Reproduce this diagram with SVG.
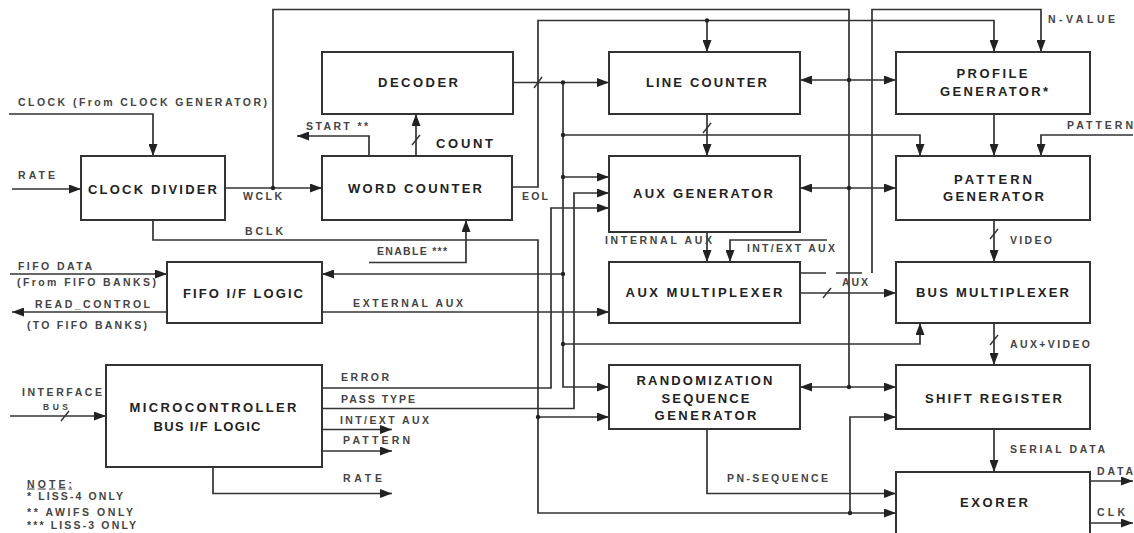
<svg xmlns="http://www.w3.org/2000/svg" width="1134" height="533" viewBox="0 0 1134 533">
<style>
.box{fill:#fff;stroke:#333;stroke-width:2}
.t{font-family:"Liberation Sans",Arial,sans-serif;font-weight:bold;font-size:13px;fill:#222;text-anchor:middle}
.s{font-family:"Liberation Sans",Arial,sans-serif;font-weight:bold;font-size:10.5px;fill:#444}
.w{fill:none;stroke:#333;stroke-width:1.7}
.a{marker-end:url(#ah)}
.dot{fill:#222}
.sl{stroke:#333;stroke-width:1.4}
</style>
<defs>
<marker id="ah" markerUnits="userSpaceOnUse" markerWidth="12" markerHeight="9" refX="12" refY="4.5" orient="auto">
<path d="M0,0 L12,4.5 L0,9 z" fill="#222"/>
</marker>
</defs>
<rect width="1134" height="533" fill="#fff"/>

<g id="connectors">
<path class="w a" d="M9,114 H153 V156"/>
<path class="w a" d="M12,189 H81"/>
<path class="w a" d="M225,188 H322"/>
<path class="w" d="M273,188 V9.5 H849 V387"/>
<path class="w a" d="M849,80 H800"/>
<path class="w a" d="M849,80 H896"/>
<path class="w a" d="M849,188 H800"/>
<path class="w a" d="M849,188 H896"/>
<path class="w a" d="M849,387 H800"/>
<path class="w a" d="M849,387 H896"/>
<path class="w a" d="M153,220 V240 H538 V513 H896"/>
<path class="w a" d="M538,417 H609"/>
<path class="w a" d="M850,513 V417 H896"/>
<path class="w a" d="M512,187 H538 V20.5 H994 V52"/>
<path class="w a" d="M707,20.5 V52"/>
<path class="w a" d="M513,82.5 H609"/>
<path class="w a" d="M563,82.5 V387 H609"/>
<path class="w a" d="M563,135 H920 V156"/>
<path class="w a" d="M563,177 H609"/>
<path class="w a" d="M563,274 H322"/>
<path class="w a" d="M563,344 H920 V323"/>
<path class="w a" d="M707,114 V156"/>
<path class="w a" d="M322,388 H551 V208 H609"/>
<path class="w a" d="M322,408.5 H574 V193 H609"/>
<path class="w a" d="M322,429.5 H392"/>
<path class="w a" d="M322,451 H392"/>
<path class="w a" d="M213,467 V493.5 H392"/>
<path class="w a" d="M322,312 H609"/>
<path class="w a" d="M10,274 H167"/>
<path class="w a" d="M167,312 H12"/>
<path class="w a" d="M10,416 H106"/>
<path class="w a" d="M369,156 V136 H297"/>
<path class="w a" d="M416,156 V114"/>
<path class="w a" d="M369,262.5 H466 V220"/>
<path class="w a" d="M707,232 V262"/>
<path class="w a" d="M827,240 H730 V262"/>
<path class="w a" d="M800,293 H896"/>
<path class="w" d="M800,273 H826 M836,273 H862"/>
<path class="w a" d="M872,273 V9.5 H1041 V52"/>
<path class="w a" d="M994,114 V156"/>
<path class="w a" d="M1133,135 H1041 V156"/>
<path class="w a" d="M994,220 V262"/>
<path class="w a" d="M994,323 V365"/>
<path class="w a" d="M994,429 V472"/>
<path class="w a" d="M707,429 V493.5 H896"/>
<path class="w a" d="M1089,481 H1133"/>
<path class="w a" d="M1089,523 H1133"/>
<line class="sl" x1="534" y1="88" x2="542" y2="77"/>
<line class="sl" x1="703" y1="133" x2="711" y2="123"/>
<line class="sl" x1="412" y1="145" x2="420" y2="135"/>
<line class="sl" x1="61" y1="421" x2="69" y2="411"/>
<line class="sl" x1="823" y1="298" x2="831" y2="288"/>
<line class="sl" x1="990" y1="239" x2="998" y2="229"/>
<line class="sl" x1="990" y1="345" x2="998" y2="335"/>
<circle class="dot" cx="273" cy="188" r="2.2"/>
<circle class="dot" cx="849" cy="80" r="2.2"/>
<circle class="dot" cx="849" cy="188" r="2.2"/>
<circle class="dot" cx="849" cy="387" r="2.2"/>
<circle class="dot" cx="538" cy="417" r="2.2"/>
<circle class="dot" cx="850" cy="513" r="2.2"/>
<circle class="dot" cx="707" cy="20.5" r="2.2"/>
<circle class="dot" cx="563" cy="82.5" r="2.2"/>
<circle class="dot" cx="563" cy="135" r="2.2"/>
<circle class="dot" cx="563" cy="177" r="2.2"/>
<circle class="dot" cx="563" cy="274" r="2.2"/>
<circle class="dot" cx="563" cy="344" r="2.2"/>
</g>

<g id="labels">
<text class="s" x="18" y="106" textLength="249" lengthAdjust="spacing">CLOCK (From CLOCK GENERATOR)</text>
<text class="s" x="18" y="178.5" textLength="37" lengthAdjust="spacing">RATE</text>
<text class="s" x="243" y="200" textLength="39" lengthAdjust="spacing">WCLK</text>
<text class="s" x="245" y="235" textLength="38" lengthAdjust="spacing">BCLK</text>
<text class="s" x="306" y="129.5" textLength="62" lengthAdjust="spacing">START **</text>
<text class="s" x="436" y="147.5" textLength="57" lengthAdjust="spacing" style="font-size:13px;fill:#222">COUNT</text>
<text class="s" x="522" y="200" textLength="26" lengthAdjust="spacing">EOL</text>
<text class="s" x="377" y="255" textLength="70" lengthAdjust="spacing">ENABLE ***</text>
<text class="s" x="18" y="269.5" textLength="74" lengthAdjust="spacing">FIFO DATA</text>
<text class="s" x="17" y="286" textLength="139" lengthAdjust="spacing">(From FIFO BANKS)</text>
<text class="s" x="35" y="307.5" textLength="115" lengthAdjust="spacing">READ_CONTROL</text>
<text class="s" x="27" y="328.5" textLength="120" lengthAdjust="spacing">(TO FIFO BANKS)</text>
<text class="s" x="353" y="306.5" textLength="110" lengthAdjust="spacing">EXTERNAL AUX</text>
<text class="s" x="605" y="243.5" textLength="107" lengthAdjust="spacing">INTERNAL AUX</text>
<text class="s" x="747" y="251.5" textLength="88" lengthAdjust="spacing">INT/EXT AUX</text>
<text class="s" x="842" y="285.5" textLength="26" lengthAdjust="spacing">AUX</text>
<text class="s" x="1010" y="243.5" textLength="42" lengthAdjust="spacing">VIDEO</text>
<text class="s" x="1010" y="347.5" textLength="80" lengthAdjust="spacing">AUX+VIDEO</text>
<text class="s" x="1010" y="452.5" textLength="95" lengthAdjust="spacing">SERIAL DATA</text>
<text class="s" x="1097" y="474.5" textLength="36" lengthAdjust="spacing">DATA</text>
<text class="s" x="1097" y="515.5" textLength="28" lengthAdjust="spacing">CLK</text>
<text class="s" x="1067" y="128.5" textLength="66" lengthAdjust="spacing">PATTERN</text>
<text class="s" x="1048" y="22.5" textLength="67" lengthAdjust="spacing">N-VALUE</text>
<text class="s" x="22" y="396" textLength="80" lengthAdjust="spacing">INTERFACE</text>
<text class="s" x="43" y="410" textLength="25" lengthAdjust="spacing" style="font-size:8.5px">BUS</text>
<text class="s" x="341" y="381" textLength="48" lengthAdjust="spacing">ERROR</text>
<text class="s" x="341" y="402.5" textLength="74" lengthAdjust="spacing">PASS TYPE</text>
<text class="s" x="340" y="423.5" textLength="89" lengthAdjust="spacing">INT/EXT AUX</text>
<text class="s" x="343" y="444" textLength="67" lengthAdjust="spacing">PATTERN</text>
<text class="s" x="343" y="481.5" textLength="39" lengthAdjust="spacing">RATE</text>
<text class="s" x="727" y="481.5" textLength="101" lengthAdjust="spacing">PN-SEQUENCE</text>
<text class="s" x="27" y="487.5" textLength="45" lengthAdjust="spacing" style="text-decoration:underline">NOTE:</text>
<text class="s" x="27" y="500" textLength="96" lengthAdjust="spacing">* LISS-4 ONLY</text>
<text class="s" x="27" y="515.5" textLength="106" lengthAdjust="spacing">** AWIFS ONLY</text>
<text class="s" x="27" y="529" textLength="109" lengthAdjust="spacing">*** LISS-3 ONLY</text>
</g>

<g id="decoder"><rect class="box" x="322" y="52" width="191" height="62"/><text class="t" x="418" y="86.5" textLength="80" lengthAdjust="spacing">DECODER</text></g>
<g id="word-counter"><rect class="box" x="322" y="156" width="190" height="64"/><text class="t" x="415" y="193" textLength="134" lengthAdjust="spacing">WORD COUNTER</text></g>
<g id="clock-divider"><rect class="box" x="81" y="156" width="144" height="64"/><text class="t" x="152.5" y="193.5" textLength="129" lengthAdjust="spacing">CLOCK DIVIDER</text></g>
<g id="fifo-if-logic"><rect class="box" x="167" y="262" width="155" height="61"/><text class="t" x="243" y="297.5" textLength="120" lengthAdjust="spacing">FIFO I/F LOGIC</text></g>
<g id="microcontroller"><rect class="box" x="106" y="365" width="216" height="102"/><text class="t" x="213" y="412" textLength="167" lengthAdjust="spacing">MICROCONTROLLER</text><text class="t" x="207" y="430.5" textLength="107" lengthAdjust="spacing">BUS I/F LOGIC</text></g>
<g id="line-counter"><rect class="box" x="609" y="52" width="191" height="62"/><text class="t" x="706.5" y="86.5" textLength="121" lengthAdjust="spacing">LINE COUNTER</text></g>
<g id="aux-generator"><rect class="box" x="609" y="156" width="191" height="76"/><text class="t" x="703" y="198" textLength="140" lengthAdjust="spacing">AUX GENERATOR</text></g>
<g id="aux-multiplexer"><rect class="box" x="609" y="262" width="191" height="61"/><text class="t" x="704" y="296.5" textLength="157" lengthAdjust="spacing">AUX MULTIPLEXER</text></g>
<g id="randomization"><rect class="box" x="609" y="365" width="191" height="64"/><text class="t" x="704.5" y="384.5" textLength="136" lengthAdjust="spacing">RANDOMIZATION</text><text class="t" x="705.5" y="402.5" textLength="88" lengthAdjust="spacing">SEQUENCE</text><text class="t" x="705.5" y="419.5" textLength="102" lengthAdjust="spacing">GENERATOR</text></g>
<g id="profile-generator"><rect class="box" x="896" y="52" width="194" height="62"/><text class="t" x="992" y="78" textLength="71" lengthAdjust="spacing">PROFILE</text><text class="t" x="994" y="95.5" textLength="108" lengthAdjust="spacing">GENERATOR*</text></g>
<g id="pattern-generator"><rect class="box" x="896" y="156" width="194" height="64"/><text class="t" x="993" y="184" textLength="78" lengthAdjust="spacing">PATTERN</text><text class="t" x="993.5" y="200.5" textLength="101" lengthAdjust="spacing">GENERATOR</text></g>
<g id="bus-multiplexer"><rect class="box" x="896" y="262" width="194" height="61"/><text class="t" x="992.5" y="296.5" textLength="153" lengthAdjust="spacing">BUS MULTIPLEXER</text></g>
<g id="shift-register"><rect class="box" x="896" y="365" width="194" height="64"/><text class="t" x="993.5" y="402.5" textLength="137" lengthAdjust="spacing">SHIFT REGISTER</text></g>
<g id="exorer"><rect class="box" x="896" y="472" width="194" height="75"/><text class="t" x="994" y="507" textLength="68" lengthAdjust="spacing">EXORER</text></g>
</svg>
